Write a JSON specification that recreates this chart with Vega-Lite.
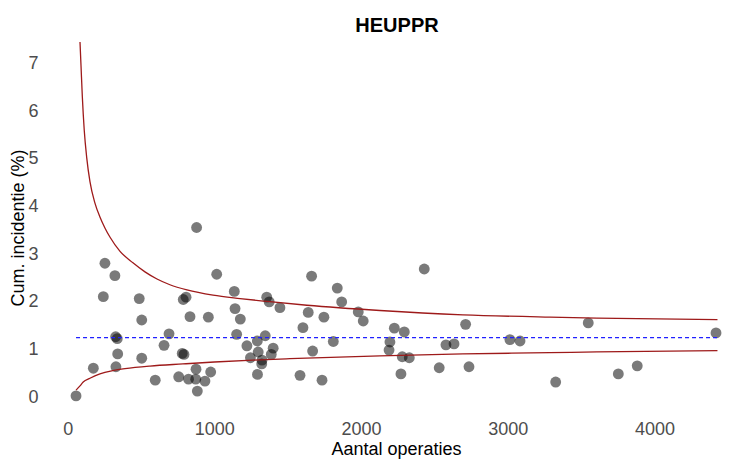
{
  "$schema": "https://vega.github.io/schema/vega-lite/v6.json",
  "autosize": {"type": "none"},
  "width": 674,
  "height": 373,
  "padding": {"left": 53, "top": 35, "right": 6, "bottom": 53},
  "background": "white",
  "title": {"text": "HEUPPR", "fontSize": 20, "fontWeight": "bold", "font": "Liberation Sans", "color": "black", "anchor": "middle", "dx": 7, "offset": -1},
  "config": {
    "view": {"stroke": null},
    "font": "Liberation Sans",
    "axis": {"grid": false, "domain": false, "ticks": false, "tickSize": 0, "labelColor": "#4d4d4d", "labelFontSize": 18, "labelFont": "Liberation Sans", "titleFontSize": 18, "titleFont": "Liberation Sans", "titleFontWeight": "normal", "titleColor": "black"}
  },
  "datasets": {
    "points": [
      {"n": 57, "v": 0.03}, {"n": 175, "v": 0.61}, {"n": 254, "v": 2.81}, {"n": 322, "v": 2.55},
      {"n": 243, "v": 2.11}, {"n": 327, "v": 1.27}, {"n": 338, "v": 1.23}, {"n": 341, "v": 0.91},
      {"n": 329, "v": 0.64}, {"n": 488, "v": 2.07}, {"n": 505, "v": 1.62}, {"n": 505, "v": 0.82},
      {"n": 597, "v": 0.36}, {"n": 691, "v": 1.33}, {"n": 657, "v": 1.09}, {"n": 757, "v": 0.43},
      {"n": 781, "v": 0.92}, {"n": 793, "v": 0.9}, {"n": 788, "v": 2.05}, {"n": 807, "v": 2.1},
      {"n": 834, "v": 1.69}, {"n": 824, "v": 0.38}, {"n": 875, "v": 0.59}, {"n": 879, "v": 3.56},
      {"n": 884, "v": 0.13}, {"n": 873, "v": 0.38}, {"n": 936, "v": 0.34}, {"n": 959, "v": 1.68},
      {"n": 975, "v": 0.53}, {"n": 1016, "v": 2.58}, {"n": 1136, "v": 2.22}, {"n": 1141, "v": 1.86},
      {"n": 1177, "v": 1.64}, {"n": 1152, "v": 1.32}, {"n": 1222, "v": 1.08}, {"n": 1246, "v": 0.83},
      {"n": 1294, "v": 0.48}, {"n": 1293, "v": 1.18}, {"n": 1299, "v": 0.95}, {"n": 1325, "v": 0.78},
      {"n": 1323, "v": 0.7}, {"n": 1357, "v": 2.1}, {"n": 1374, "v": 2.0}, {"n": 1347, "v": 1.29},
      {"n": 1401, "v": 1.03}, {"n": 1388, "v": 0.9}, {"n": 1447, "v": 1.88}, {"n": 1584, "v": 0.46},
      {"n": 1604, "v": 1.46}, {"n": 1640, "v": 1.78}, {"n": 1663, "v": 2.54}, {"n": 1670, "v": 0.97},
      {"n": 1734, "v": 0.36}, {"n": 1747, "v": 1.68}, {"n": 1811, "v": 1.17}, {"n": 1838, "v": 2.29},
      {"n": 1868, "v": 2.0}, {"n": 1981, "v": 1.79}, {"n": 2015, "v": 1.6}, {"n": 2197, "v": 1.16},
      {"n": 2191, "v": 0.99}, {"n": 2227, "v": 1.45}, {"n": 2295, "v": 1.37}, {"n": 2281, "v": 0.85},
      {"n": 2329, "v": 0.83}, {"n": 2272, "v": 0.49}, {"n": 2431, "v": 2.69}, {"n": 2533, "v": 0.62},
      {"n": 2579, "v": 1.1}, {"n": 2634, "v": 1.12}, {"n": 2713, "v": 1.53}, {"n": 2736, "v": 0.64},
      {"n": 3015, "v": 1.21}, {"n": 3084, "v": 1.18}, {"n": 3327, "v": 0.32}, {"n": 3549, "v": 1.56},
      {"n": 3754, "v": 0.49}, {"n": 3883, "v": 0.66}, {"n": 4420, "v": 1.35}
    ],
    "limits": [
      {"n": 84, "v": 7.45, "bound": "upper"}, {"n": 91, "v": 6.95, "bound": "upper"},
      {"n": 100, "v": 6.3, "bound": "upper"}, {"n": 113, "v": 5.6, "bound": "upper"},
      {"n": 130, "v": 5.02, "bound": "upper"}, {"n": 152, "v": 4.52, "bound": "upper"},
      {"n": 186, "v": 4.07, "bound": "upper"}, {"n": 220, "v": 3.78, "bound": "upper"},
      {"n": 254, "v": 3.55, "bound": "upper"}, {"n": 288, "v": 3.36, "bound": "upper"},
      {"n": 357, "v": 3.06, "bound": "upper"}, {"n": 445, "v": 2.82, "bound": "upper"},
      {"n": 527, "v": 2.63, "bound": "upper"}, {"n": 609, "v": 2.48, "bound": "upper"},
      {"n": 697, "v": 2.36, "bound": "upper"}, {"n": 813, "v": 2.25, "bound": "upper"},
      {"n": 991, "v": 2.14, "bound": "upper"}, {"n": 1175, "v": 2.07, "bound": "upper"},
      {"n": 1360, "v": 2.01, "bound": "upper"}, {"n": 1631, "v": 1.93, "bound": "upper"},
      {"n": 2129, "v": 1.82, "bound": "upper"}, {"n": 2695, "v": 1.73, "bound": "upper"},
      {"n": 3288, "v": 1.68, "bound": "upper"}, {"n": 3608, "v": 1.66, "bound": "upper"},
      {"n": 4430, "v": 1.63, "bound": "upper"},
      {"n": 57, "v": 0.15, "bound": "lower"}, {"n": 84, "v": 0.24, "bound": "lower"},
      {"n": 106, "v": 0.32, "bound": "lower"}, {"n": 152, "v": 0.4, "bound": "lower"},
      {"n": 220, "v": 0.49, "bound": "lower"}, {"n": 300, "v": 0.555, "bound": "lower"},
      {"n": 391, "v": 0.6, "bound": "lower"}, {"n": 561, "v": 0.655, "bound": "lower"},
      {"n": 786, "v": 0.7, "bound": "lower"}, {"n": 1000, "v": 0.74, "bound": "lower"},
      {"n": 1263, "v": 0.78, "bound": "lower"}, {"n": 1515, "v": 0.81, "bound": "lower"},
      {"n": 2129, "v": 0.87, "bound": "lower"}, {"n": 2695, "v": 0.91, "bound": "lower"},
      {"n": 3288, "v": 0.935, "bound": "lower"}, {"n": 3608, "v": 0.952, "bound": "lower"},
      {"n": 4430, "v": 0.977, "bound": "lower"}
    ],
    "mean": [{"n": 57, "n2": 4430, "v": 1.25}]
  },
  "layer": [
    {
      "data": {"name": "points"},
      "mark": {"type": "circle", "size": 118, "color": "black", "opacity": 0.52},
      "encoding": {
        "x": {"field": "n", "type": "quantitative", "scale": {"domain": [-100, 4495], "nice": false, "zero": false},
              "axis": {"title": "Aantal operaties", "values": [0, 1000, 2000, 3000, 4000], "format": "d", "labelBaseline": "alphabetic", "labelPadding": 26, "titleX": 343, "titleY": 46.5, "titleBaseline": "alphabetic", "titleAlign": "center"}},
        "y": {"field": "v", "type": "quantitative", "scale": {"domain": [-0.224, 7.595], "nice": false, "zero": false},
              "axis": {"title": "Cum. incidentie (%)", "values": [0, 1, 2, 3, 4, 5, 6, 7], "format": "d", "labelPadding": 15, "titleX": -29.5, "titleY": 192.5, "titleBaseline": "alphabetic", "titleAlign": "center", "titleAngle": -90}}
      }
    },
    {
      "data": {"name": "limits"},
      "mark": {"type": "line", "color": "#9e1a1a", "strokeWidth": 1.3, "interpolate": "monotone"},
      "encoding": {
        "x": {"field": "n", "type": "quantitative"},
        "y": {"field": "v", "type": "quantitative"},
        "detail": {"field": "bound"}
      }
    },
    {
      "data": {"name": "mean"},
      "mark": {"type": "rule", "color": "#2020ff", "strokeWidth": 1.3, "strokeDash": [4, 3]},
      "encoding": {
        "x": {"field": "n", "type": "quantitative"},
        "x2": {"field": "n2"},
        "y": {"field": "v", "type": "quantitative"}
      }
    }
  ]
}
